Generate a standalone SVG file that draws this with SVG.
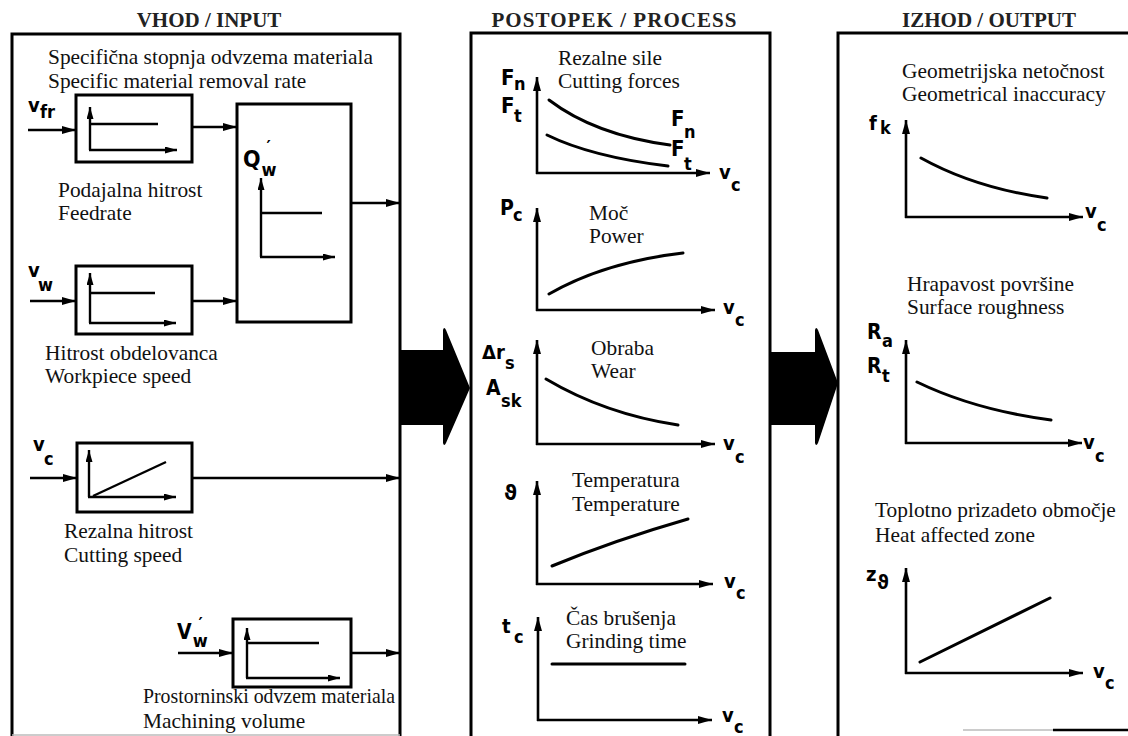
<svg xmlns="http://www.w3.org/2000/svg" width="1128" height="736" viewBox="0 0 1128 736">
<style>
.bg{fill:#fff}
.pn{fill:none;stroke:#000;stroke-width:3}
.bx{fill:#fff;stroke:#000;stroke-width:3}
.ax{fill:none;stroke:#000;stroke-width:2.6}
.ln{fill:none;stroke:#000;stroke-width:3;stroke-linecap:round}
.mx{fill:none;stroke:#000;stroke-width:2.4}
.cn{fill:none;stroke:#000;stroke-width:2.6}
.t{font-family:"Liberation Serif","Times New Roman",serif;font-size:21.4px;fill:#111}
.h{font-family:"Liberation Serif","Times New Roman",serif;font-size:21px;font-weight:bold;fill:#222;text-anchor:middle}
.lb{font-family:"DejaVu Sans Condensed","Liberation Sans",Arial,sans-serif;font-weight:bold;font-size:20px;fill:#000}
.sb{font-family:"DejaVu Sans Condensed","Liberation Sans",Arial,sans-serif;font-weight:bold;font-size:18px;fill:#000}
</style>
<defs>
<marker id="ah" viewBox="0 0 14 8" refX="14" refY="4" markerWidth="14" markerHeight="8" orient="auto" markerUnits="userSpaceOnUse"><path d="M0,0 L14,4 L0,8 Z" fill="#000"/></marker>
<marker id="am" viewBox="0 0 12 7" refX="12" refY="3.5" markerWidth="12" markerHeight="7" orient="auto" markerUnits="userSpaceOnUse"><path d="M0,0 L12,3.5 L0,7 Z" fill="#000"/></marker>
</defs>
<rect class="bg" x="0" y="0" width="1128" height="736"/>

<!-- titles -->
<text class="h" x="209" y="27">VHOD / INPUT</text>
<text class="h" x="614" y="27" textLength="245" lengthAdjust="spacing">POSTOPEK / PROCESS</text>
<text class="h" x="989" y="27">IZHOD / OUTPUT</text>

<!-- panels -->
<g id="panel-input">
<path class="pn" d="M12,736 V34 H400 V736"/>
<line x1="12" y1="735" x2="400" y2="735" stroke="#bbb" stroke-width="1.5"/>
<text class="t" x="48" y="64">Specifična stopnja odvzema materiala</text>
<text class="t" x="48" y="88">Specific material removal rate</text>
</g>
<g id="panel-process"><path class="pn" d="M471,736 V33 H770 V736"/></g>
<g id="panel-output">
<path class="pn" d="M838,736 V33 H1128"/>
<line x1="963" y1="730" x2="1053" y2="730" stroke="#ccc" stroke-width="2"/>
<line x1="1053" y1="730" x2="1128" y2="730" stroke="#000" stroke-width="2.5"/>
</g>

<!-- input blocks -->
<g id="box-feedrate">
<rect class="bx" x="76" y="95" width="116" height="67"/>
<line class="mx" x1="90" y1="150" x2="90" y2="107" marker-end="url(#am)"/>
<line class="mx" x1="89" y1="150" x2="177" y2="150" marker-end="url(#am)"/>
<line class="mx" x1="90" y1="124" x2="158" y2="124"/>
<text class="lb" x="28" y="112">v</text><text class="sb" x="40" y="118">fr</text>
<text class="t" x="58" y="197">Podajalna hitrost</text>
<text class="t" x="58" y="220">Feedrate</text>
</g>
<g id="box-qw">
<rect class="bx" x="237" y="104" width="114" height="218"/>
<text class="lb" x="243" y="167" style="font-size:23px">Q<tspan class="sb" dx="1" dy="9">w</tspan><tspan class="sb" dx="-10" dy="-23">′</tspan></text>
<line class="mx" x1="261" y1="257" x2="261" y2="178" marker-end="url(#am)"/>
<line class="mx" x1="260" y1="257" x2="335" y2="257" marker-end="url(#am)"/>
<line class="mx" x1="261" y1="213" x2="322" y2="213"/>
</g>
<g id="box-workspeed">
<rect class="bx" x="76" y="266" width="116" height="68"/>
<line class="mx" x1="90" y1="323" x2="90" y2="273" marker-end="url(#am)"/>
<line class="mx" x1="89" y1="323" x2="176" y2="323" marker-end="url(#am)"/>
<line class="mx" x1="90" y1="293" x2="155" y2="293"/>
<text class="lb" x="28" y="277">v</text><text class="sb" x="38" y="291">w</text>
<text class="t" x="45" y="360">Hitrost obdelovanca</text>
<text class="t" x="45" y="383">Workpiece speed</text>
</g>
<g id="box-cutspeed">
<rect class="bx" x="77" y="443" width="115" height="69"/>
<line class="mx" x1="89" y1="497" x2="89" y2="450" marker-end="url(#am)"/>
<line class="mx" x1="88" y1="497" x2="176" y2="497" marker-end="url(#am)"/>
<line class="mx" x1="93" y1="496" x2="166" y2="462"/>
<text class="lb" x="33" y="451">v</text><text class="sb" x="44" y="465">c</text>
<text class="t" x="64" y="538">Rezalna hitrost</text>
<text class="t" x="64" y="562">Cutting speed</text>
</g>
<g id="box-volume">
<rect class="bx" x="233" y="619" width="118" height="68"/>
<line class="mx" x1="247" y1="678" x2="247" y2="628" marker-end="url(#am)"/>
<line class="mx" x1="246" y1="678" x2="340" y2="678" marker-end="url(#am)"/>
<line class="mx" x1="247" y1="643" x2="319" y2="643"/>
<text class="lb" x="177" y="639" style="font-size:21px">V<tspan class="sb" dx="1" dy="8">w</tspan><tspan class="sb" dx="-9" dy="-17">′</tspan></text>
<text class="t" x="143" y="703" textLength="252" lengthAdjust="spacingAndGlyphs">Prostorninski odvzem materiala</text>
<text class="t" x="143" y="728">Machining volume</text>
</g>

<!-- connectors -->
<g id="connectors">
<line class="cn" x1="28" y1="130" x2="76" y2="130" marker-end="url(#ah)"/>
<line class="cn" x1="192" y1="127" x2="237" y2="127" marker-end="url(#ah)"/>
<line class="cn" x1="351" y1="203" x2="400" y2="203" marker-end="url(#ah)"/>
<line class="cn" x1="30" y1="301" x2="76" y2="301" marker-end="url(#ah)"/>
<line class="cn" x1="192" y1="301" x2="237" y2="301" marker-end="url(#ah)"/>
<line class="cn" x1="30" y1="478" x2="77" y2="478" marker-end="url(#ah)"/>
<line class="cn" x1="192" y1="478" x2="400" y2="478" marker-end="url(#ah)"/>
<line class="cn" x1="178" y1="653" x2="233" y2="653" marker-end="url(#ah)"/>
<line class="cn" x1="351" y1="653" x2="400" y2="653" marker-end="url(#ah)"/>
<path d="M400,350 L443,350 L443,330 Q444,326 446,330 L470,388 L446,443 Q444,447 443,443 L443,425 L400,425 Z" fill="#000"/>
<path d="M770,352 L815,352 L815,330 Q816,326 818,330 L838,383 L818,443 Q816,447 815,443 L815,425 L770,425 Z" fill="#000"/>
</g>

<!-- process graphs -->
<g id="g-forces">
<line class="ax" x1="537" y1="174" x2="537" y2="77" marker-end="url(#ah)"/>
<line class="ax" x1="536" y1="173" x2="710" y2="173" marker-end="url(#ah)"/>
<path class="ln" d="M549,100 Q595,135 670,145"/>
<path class="ln" d="M547,135 Q592,157 668,166"/>
<text class="lb" x="501" y="85" style="font-size:22px">F</text><text class="sb" x="514" y="90">n</text>
<text class="lb" x="501" y="113" style="font-size:22px">F</text><text class="sb" x="514" y="122">t</text>
<text class="lb" x="671" y="126" style="font-size:22px">F</text><text class="sb" x="684" y="138">n</text>
<text class="lb" x="671" y="156" style="font-size:22px">F</text><text class="sb" x="684" y="170">t</text>
<text class="lb" x="719" y="179">v</text><text class="sb" x="731" y="191">c</text>
<text class="t" x="558" y="65">Rezalne sile</text>
<text class="t" x="558" y="88">Cutting forces</text>
</g>
<g id="g-power">
<line class="ax" x1="537" y1="311" x2="537" y2="208" marker-end="url(#ah)"/>
<line class="ax" x1="536" y1="310" x2="715" y2="310" marker-end="url(#ah)"/>
<path class="ln" d="M549,294 Q605,262 683,253"/>
<text class="lb" x="500" y="215" style="font-size:21px">P</text><text class="sb" x="513" y="221">c</text>
<text class="lb" x="723" y="314">v</text><text class="sb" x="735" y="326">c</text>
<text class="t" x="589" y="220">Moč</text>
<text class="t" x="589" y="243">Power</text>
</g>
<g id="g-wear">
<line class="ax" x1="537" y1="445" x2="537" y2="340" marker-end="url(#ah)"/>
<line class="ax" x1="536" y1="444" x2="715" y2="444" marker-end="url(#ah)"/>
<path class="ln" d="M546,379 Q605,414 678,425"/>
<text class="lb" x="482" y="359">Δr</text><text class="sb" x="505" y="369">s</text>
<text class="lb" x="486" y="395" style="font-size:21px">A</text><text class="sb" x="501" y="407">sk</text>
<text class="lb" x="723" y="450">v</text><text class="sb" x="735" y="463">c</text>
<text class="t" x="591" y="355">Obraba</text>
<text class="t" x="591" y="378">Wear</text>
</g>
<g id="g-temp">
<line class="ax" x1="537" y1="585" x2="537" y2="481" marker-end="url(#ah)"/>
<line class="ax" x1="536" y1="584" x2="713" y2="584" marker-end="url(#ah)"/>
<path class="ln" d="M552,566 Q615,540 688,519"/>
<text class="lb" x="504" y="500" style="font-size:22px">ϑ</text>
<text class="lb" x="724" y="588">v</text><text class="sb" x="736" y="599">c</text>
<text class="t" x="572" y="487">Temperatura</text>
<text class="t" x="572" y="511">Temperature</text>
</g>
<g id="g-time">
<line class="ax" x1="538" y1="721" x2="538" y2="617" marker-end="url(#ah)"/>
<line class="ax" x1="537" y1="720" x2="712" y2="720" marker-end="url(#ah)"/>
<line class="ln" x1="552" y1="664" x2="685" y2="664"/>
<text class="lb" x="502" y="633">t</text><text class="sb" x="514" y="643">c</text>
<text class="lb" x="722" y="722">v</text><text class="sb" x="734" y="733">c</text>
<text class="t" x="566" y="625">Čas brušenja</text>
<text class="t" x="566" y="648">Grinding time</text>
</g>

<!-- output graphs -->
<g id="g-geom">
<line class="ax" x1="906" y1="218" x2="906" y2="120" marker-end="url(#ah)"/>
<line class="ax" x1="905" y1="217" x2="1083" y2="217" marker-end="url(#ah)"/>
<path class="ln" d="M921,158 Q975,188 1047,198"/>
<text class="lb" x="869" y="130">f</text><text class="sb" x="880" y="134">k</text>
<text class="lb" x="1085" y="218">v</text><text class="sb" x="1097" y="231">c</text>
<text class="t" x="902" y="78">Geometrijska netočnost</text>
<text class="t" x="902" y="101">Geometrical inaccuracy</text>
</g>
<g id="g-rough">
<line class="ax" x1="906" y1="444" x2="906" y2="340" marker-end="url(#ah)"/>
<line class="ax" x1="905" y1="443" x2="1082" y2="443" marker-end="url(#ah)"/>
<path class="ln" d="M917,382 Q975,410 1051,420"/>
<text class="lb" x="867" y="339" style="font-size:21px">R</text><text class="sb" x="882" y="347">a</text>
<text class="lb" x="867" y="373" style="font-size:21px">R</text><text class="sb" x="882" y="382">t</text>
<text class="lb" x="1083" y="449">v</text><text class="sb" x="1095" y="462">c</text>
<text class="t" x="907" y="291">Hrapavost površine</text>
<text class="t" x="907" y="314">Surface roughness</text>
</g>
<g id="g-heat">
<line class="ax" x1="906" y1="674" x2="906" y2="568" marker-end="url(#ah)"/>
<line class="ax" x1="905" y1="673" x2="1083" y2="673" marker-end="url(#ah)"/>
<line class="ln" x1="920" y1="662" x2="1050" y2="598"/>
<text class="lb" x="866" y="581">z</text><text class="lb" x="877" y="589">ϑ</text>
<text class="lb" x="1093" y="678">v</text><text class="sb" x="1105" y="689">c</text>
<text class="t" x="875" y="517">Toplotno prizadeto območje</text>
<text class="t" x="875" y="542">Heat affected zone</text>
</g>
</svg>
